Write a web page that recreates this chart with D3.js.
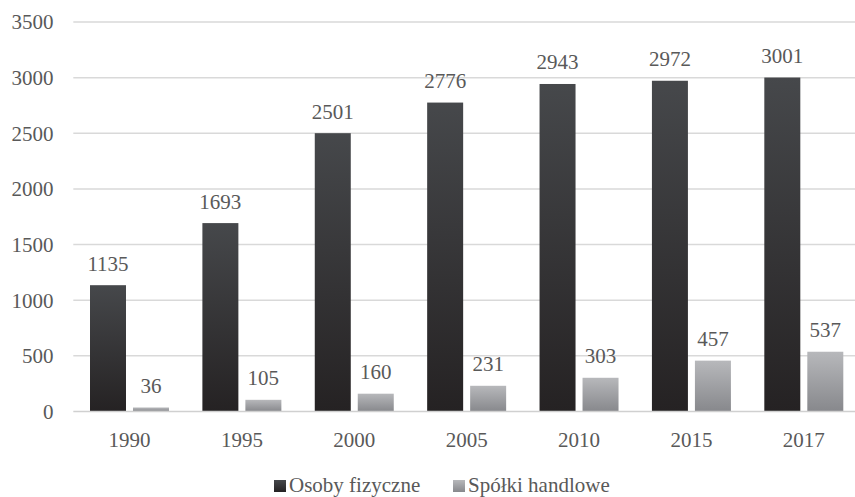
<!DOCTYPE html>
<html>
<head>
<meta charset="utf-8">
<script src="https://cdn.jsdelivr.net/npm/d3@7"></script>
<style>
  html, body { margin: 0; padding: 0; background: #fff; }
  svg { display: block; }
</style>
</head>
<body>
<svg id="chart" width="855" height="497"></svg>
<script>
const categories = ["1990", "1995", "2000", "2005", "2010", "2015", "2017"];
const seriesNames = ["Osoby fizyczne", "Spółki handlowe"];
const osobyFizyczne = [1135, 1693, 2501, 2776, 2943, 2972, 3001];
const spolkiHandlowe = [36, 105, 160, 231, 303, 457, 537];
const yTicks = [0, 500, 1000, 1500, 2000, 2500, 3000, 3500];

(function () {
const FONT = "Liberation Serif";
const seriesValues = [osobyFizyczne, spolkiHandlowe];
const svg = d3.select("#chart");
const W = 855;
const pLeft = 73.3, pRight = 860, pTop = 22, pBottom = 411.5;
const TXT = "#595959";

const defs = svg.append("defs");
const grads = [
  {id: "gDark", c0: "#46484b", c1: "#252223"},
  {id: "gLight", c0: "#b7b8bb", c1: "#87888c"}
];
grads.forEach(g => {
  const lg = defs.append("linearGradient").attr("id", g.id)
    .attr("x1", 0).attr("y1", 0).attr("x2", 0).attr("y2", 1);
  lg.append("stop").attr("offset", "0%").attr("stop-color", g.c0);
  lg.append("stop").attr("offset", "100%").attr("stop-color", g.c1);
});

const x0 = d3.scaleBand().domain(categories).range([pLeft, pRight]).padding(0);
const groupPad = 16.7;
const x1 = d3.scaleBand().domain(seriesNames)
  .range([groupPad, x0.bandwidth() - groupPad]).paddingInner(7 / 43).paddingOuter(0);
const y = d3.scaleLinear().domain([0, 3500]).range([pBottom, pTop]);

// gridlines
svg.append("g").selectAll("line").data(yTicks.filter(d => d > 0)).join("line")
  .attr("x1", pLeft).attr("x2", W)
  .attr("y1", d => y(d)).attr("y2", d => y(d))
  .attr("stroke", "#d9d9d9").attr("stroke-width", 1.5);

// y labels
svg.append("g").selectAll("text").data(yTicks).join("text")
  .attr("x", 53.5).attr("y", d => y(d))
  .attr("dy", "0.35em").attr("text-anchor", "end")
  .attr("font-family", FONT).attr("font-size", 21).attr("fill", TXT).text(d => d);

// bars
const rows = (d, i) => seriesNames.map((s, j) => ({s, v: seriesValues[j][i], j}));
const groups = svg.append("g").selectAll("g").data(categories).join("g")
  .attr("transform", d => `translate(${x0(d)},0)`);
groups.selectAll("rect").data(rows).join("rect")
  .attr("x", d => x1(d.s)).attr("width", x1.bandwidth())
  .attr("y", d => y(d.v)).attr("height", d => y(0) - y(d.v))
  .attr("fill", d => d.j === 0 ? "url(#gDark)" : "url(#gLight)");
groups.selectAll("text").data(rows).join("text")
  .attr("x", d => x1(d.s) + x1.bandwidth() / 2)
  .attr("y", d => y(d.v) - 14.5)
  .attr("text-anchor", "middle")
  .attr("font-family", FONT).attr("font-size", 21).attr("fill", TXT)
  .text(d => d.v);

// baseline
svg.append("line").attr("x1", pLeft).attr("x2", W)
  .attr("y1", y(0)).attr("y2", y(0))
  .attr("stroke", "#d0d0d0").attr("stroke-width", 1.5);

// x labels
svg.append("g").selectAll("text").data(categories).join("text")
  .attr("x", d => x0(d) + x0.bandwidth() / 2).attr("y", 447)
  .attr("text-anchor", "middle")
  .attr("font-family", FONT).attr("font-size", 21).attr("fill", TXT).text(d => d);

// legend
const legend = svg.append("g");
const legendItems = [
  {name: seriesNames[0], x: 274, fill: "url(#gDark)"},
  {name: seriesNames[1], x: 453, fill: "url(#gLight)"}
];
legendItems.forEach(it => {
  legend.append("rect").attr("x", it.x).attr("y", 480).attr("width", 12).attr("height", 12)
    .attr("fill", it.fill);
  legend.append("text").attr("x", it.x + 15).attr("y", 492)
    .attr("font-family", FONT).attr("font-size", 21).attr("fill", TXT).text(it.name);
});
})();
</script>
</body>
</html>
